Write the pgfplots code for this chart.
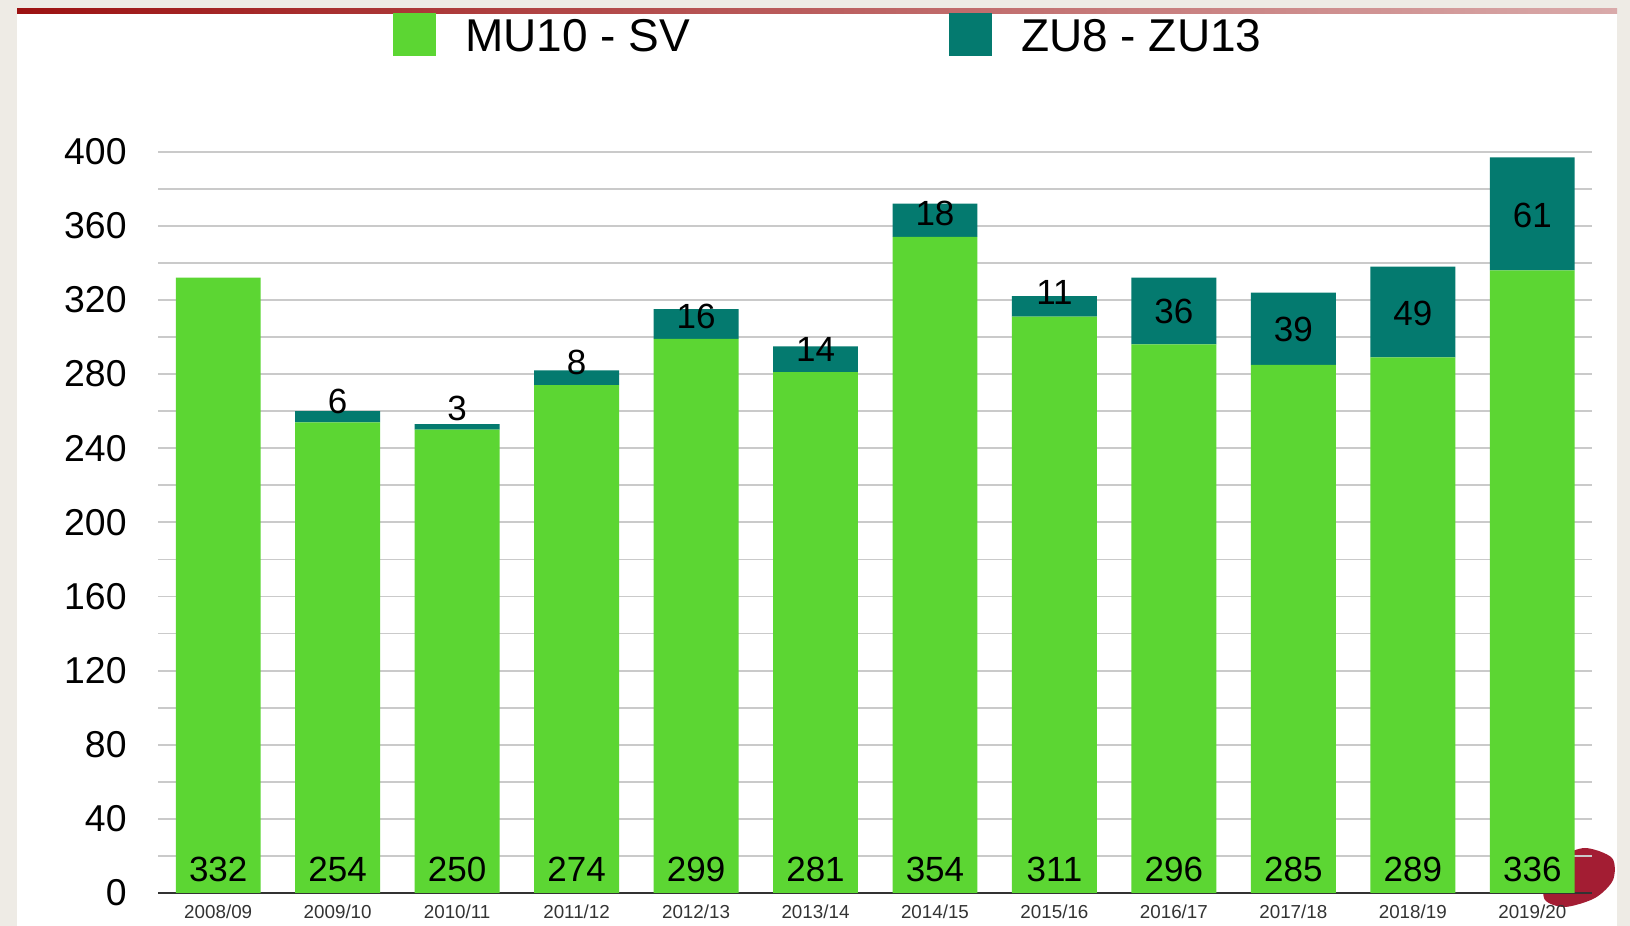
\documentclass[border=0pt]{standalone}
\usepackage{pgfplots}
\pgfplotsset{compat=1.18}
\usepackage{pgfplotstable}
\usepackage{fontspec}
\setmainfont{Liberation Sans}
\definecolor{mugreen}{HTML}{5CD633}
\definecolor{zuteal}{HTML}{047A6F}
\definecolor{bgbeige}{HTML}{EEEBE5}
\definecolor{gridgray}{HTML}{CACACA}
\definecolor{blobred}{HTML}{A31D33}
\definecolor{lineleft}{HTML}{9C1212}
\definecolor{lineright}{HTML}{D9AAAA}

\pgfplotstableread{
x mu zu
0 332 0
1 254 6
2 250 3
3 274 8
4 299 16
5 281 14
6 354 18
7 311 11
8 296 36
9 285 39
10 289 49
11 336 61
}\datatable

\pgfplotstableread{
x y lab
1 265.1 6
2 261.7 3
3 286.1 8
4 311.3 16
5 293.4 14
6 366.9 18
7 324.0 11
8 314.0 36
9 304.3 39
10 312.8 49
11 365.8 61
}\toplabels

\pgfplotstableread{
x y lab
0 12.7 332
1 12.7 254
2 12.7 250
3 12.7 274
4 12.7 299
5 12.7 281
6 12.7 354
7 12.7 311
8 12.7 296
9 12.7 285
10 12.7 289
11 12.7 336
}\bottomlabels

\begin{document}
\begin{tikzpicture}
\useasboundingbox (0pt,0pt) rectangle (815pt,463pt);
\fill[bgbeige] (0pt,0pt) rectangle (815pt,463pt);
\fill[white] (8.5pt,0pt) rectangle (808.5pt,456.5pt);
\shade[left color=lineleft, right color=lineright] (8.5pt,456.3pt) rectangle (808.5pt,458.5pt);
\fill[blobred] plot[smooth cycle] coordinates {(792.5pt,39pt) (806pt,34pt) (806.5pt,23pt) (797.5pt,14pt) (782.5pt,9.5pt) (772.5pt,13pt) (772.5pt,23pt) (780pt,34pt)};

\begin{axis}[
  at={(79.25pt,16.5pt)}, anchor=south west,
  scale only axis, width=716.75pt, height=370.65pt,
  xmin=-0.5, xmax=11.5, ymin=0, ymax=400,
  enlarge x limits=false,
  ybar stacked, bar width=0.711,
  xtick={0,...,11},
  xticklabels={2008/09,2009/10,2010/11,2011/12,2012/13,2013/14,2014/15,2015/16,2016/17,2017/18,2018/19,2019/20},
  ytick={0,40,...,400},
  minor ytick={20,60,...,380},
  ymajorgrids, yminorgrids,
  major grid style={gridgray, line width=0.9pt},
  minor grid style={gridgray, line width=0.9pt},
  axis x line*=bottom, axis y line*=left,
  x axis line style={-, line width=1pt, color=black!80},
  y axis line style={draw=none},
  major tick length=0pt, minor tick length=0pt,
  tick style={draw=none},
  /pgf/number format/assume math mode=true,
  xticklabel style={font=\fontsize{9.4}{10}\selectfont, color=black!80, inner sep=0pt, anchor=north, yshift=-5.5pt},
  yticklabel style={font=\fontsize{18.7}{20}\selectfont, inner sep=0pt, anchor=east, xshift=-15.75pt},
  legend style={at={(rel axis cs:0.1638,1.1867)}, anchor=north west, draw=none, fill=none,
    inner sep=0pt, outer sep=0pt, font=\fontsize{23}{26}\selectfont,
    nodes={inner sep=0pt},
    /tikz/every odd column/.append style={column sep=14.5pt},
    /tikz/every even column/.append style={column sep=129.5pt}},
  legend columns=2,
  legend cell align=left,
  legend image code/.code={\fill[#1,draw=none] (0pt,-9.5pt) rectangle (21.5pt,12pt);},
]
\addplot[fill=mugreen, draw=none] table[x=x,y=mu]{\datatable};
\addplot[fill=zuteal, draw=none] table[x=x,y=zu]{\datatable};
\legend{MU10 - SV, ZU8 - ZU13}
\end{axis}

\begin{axis}[
  at={(79.25pt,16.5pt)}, anchor=south west,
  scale only axis, width=716.75pt, height=370.65pt,
  xmin=-0.5, xmax=11.5, ymin=0, ymax=400,
  hide axis, clip=false,
]
\addplot[only marks, mark=none, nodes near coords, point meta=explicit symbolic,
  nodes near coords style={anchor=center, inner sep=0pt, font=\fontsize{17.5}{18}\selectfont, text=black}]
  table[x=x,y=y,meta=lab]{\toplabels};
\addplot[only marks, mark=none, nodes near coords, point meta=explicit symbolic,
  nodes near coords style={anchor=center, inner sep=0pt, font=\fontsize{17.5}{18}\selectfont, text=black}]
  table[x=x,y=y,meta=lab]{\bottomlabels};
\end{axis}
\end{tikzpicture}
\end{document}
